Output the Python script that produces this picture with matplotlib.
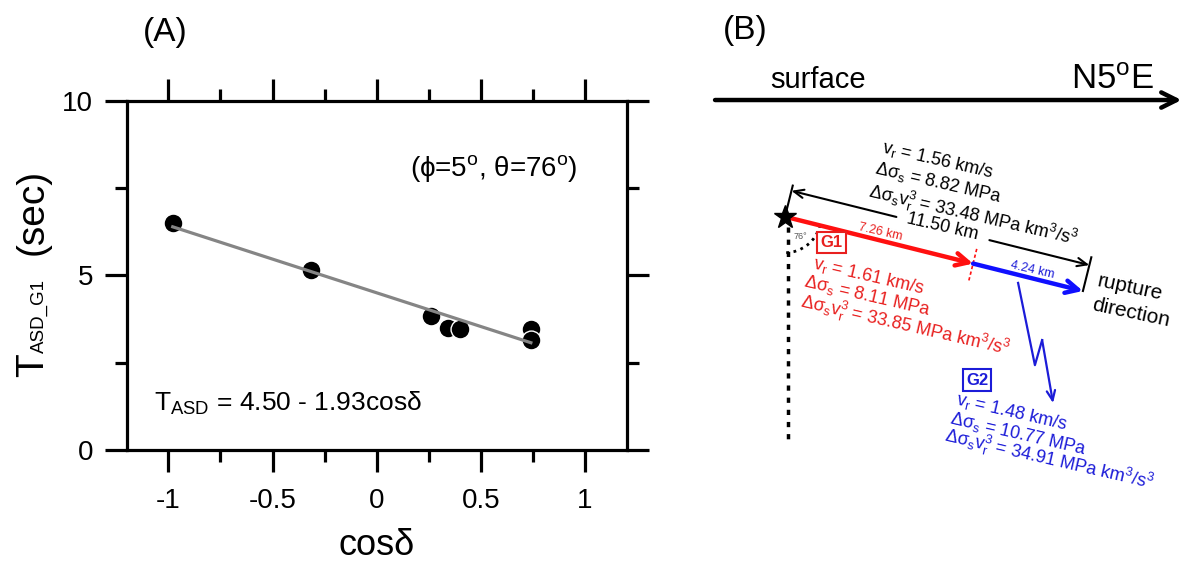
import numpy as np
import matplotlib
matplotlib.use('Agg')
import matplotlib.pyplot as plt
from matplotlib.patches import Arc

plt.rcParams['font.family'] = ['Liberation Sans', 'DejaVu Sans']
plt.rcParams['mathtext.fontset'] = 'custom'
plt.rcParams['mathtext.rm'] = 'Liberation Sans'
plt.rcParams['mathtext.it'] = 'Liberation Sans'
plt.rcParams['mathtext.bf'] = 'Liberation Sans:bold'

# (A) ASD duration vs cos(delta)
cos_delta = [-0.979, -0.314, 0.261, 0.343, 0.399, 0.740, 0.740]
t_asd = [6.51, 5.14, 3.84, 3.48, 3.45, 3.45, 3.15]
fit_a, fit_b = 4.50, -1.93
phi, theta = 5, 76
xticks = [-1, -0.5, 0, 0.5, 1]
xtick_labels = ['-1', '-0.5', '0', '0.5', '1']
yticks = [0, 5, 10]

# (B) rupture sketch
seg_len = [7.26, 4.24]
total_len = 11.50
groups = ['G1', 'G2']
vr = [1.61, 1.48]
dsig = [8.11, 10.77]
dsig_vr3 = [33.85, 34.91]
vr_all, dsig_all, dsig_vr3_all = 1.56, 8.82, 33.48
strike = 5

RED = '#e8201f'
BLUE = '#1c1cd8'

W, H = 1183, 565
fig = plt.figure(figsize=(W / 100, H / 100), dpi=100)

#%% panel A
ax = fig.add_axes([126.7 / W, 1 - 450 / H, 500 / W, 349.3 / H])
ax.scatter(cos_delta, t_asd, s=185, c='black', edgecolors='white', linewidths=1.0, zorder=3)
xf = np.array([min(cos_delta), max(cos_delta)])
ax.plot(xf, fit_a + fit_b * xf, color='#858585', lw=2.3, zorder=4)

ax.set_xlim(-1.2, 1.2)
ax.set_ylim(0, 10)
ax.set_xticks(xticks)
ax.set_xticklabels(xtick_labels)
ax.set_xticks([-0.75, -0.25, 0.25, 0.75], minor=True)
ax.set_yticks(yticks)
ax.set_yticks([2.5, 7.5], minor=True)
ax.tick_params(which='both', direction='out', top=True, right=True, width=2.3, labelsize=20)
ax.tick_params(which='major', length=16)
ax.tick_params(which='minor', length=8.6)
ax.tick_params(axis='x', pad=11)
ax.tick_params(axis='y', pad=8)
for sp in ax.spines.values():
    sp.set_linewidth(2.3)

ax.set_xlabel('cosδ', fontsize=26)
ax.xaxis.set_label_coords(0.5, -0.272)
ax.xaxis.label.set_va('center')

# y label: big T, small subscript, (sec)
fig.text(43 / W, 1 - 365 / H, 'T', fontsize=28, rotation=90, rotation_mode='anchor',
         ha='center', va='baseline')
fig.text(44 / W, 1 - 316 / H, 'ASD_G1', fontsize=13.5, rotation=90, rotation_mode='anchor',
         ha='center', va='baseline')
fig.text(43 / W, 1 - 212 / H, '(sec)', fontsize=28, rotation=90, rotation_mode='anchor',
         ha='center', va='baseline')

ax.text(0.561, 8.06, r'(ϕ=%d$^{\rm o}$, θ=%d$^{\rm o}$)' % (phi, theta), fontsize=20,
        ha='center', va='center')
ax.text(-1.07, 1.33, r'T$_{\mathregular{ASD}}$ = %.2f - %.2fcosδ' % (fit_a, -fit_b), fontsize=19,
        ha='left', va='center')

fig.text(165 / W, 1 - 32 / H, '(A)', fontsize=24, ha='center', va='center')
fig.text(745 / W, 1 - 31 / H, '(B)', fontsize=24, ha='center', va='center')

#%% panel B, axes in km with the hypocentre at the origin
scale = 26.7
ox, oy = 785, 216.7
axr = fig.add_axes([700 / W, 0, 483 / W, 1])
axr.set_xlim((700 - ox) / scale, (W - ox) / scale)
axr.set_ylim((oy - H) / scale, oy / scale)
axr.axis('off')


def arrow(p0, p1, color, lw, hl, hw):
    axr.annotate('', xy=p1, xytext=p0,
                 arrowprops=dict(arrowstyle='->,head_length=%g,head_width=%g' % (hl, hw),
                                 color=color, lw=lw, shrinkA=0, shrinkB=0))


# surface
arrow((-2.62, 4.37), (14.85, 4.37), 'black', 3.2, 1.1, 0.55)
axr.text(1.24, 5.12, 'surface', fontsize=21, ha='center', va='center')
axr.text(12.25, 5.12, r'N%d$^{\rm o}$E' % strike, fontsize=25, ha='center', va='center')

rad = np.deg2rad(theta)
d = np.array([np.sin(rad), -np.cos(rad)])
n = np.array([np.cos(rad), np.sin(rad)])
cum = np.cumsum([0] + seg_len)
p0, p1, p2 = [c * d for c in cum]

# vertical and dip angle
axr.plot([0.12, 0.12], [-0.38, -8.55], color='black', lw=2.5, ls=(0, (1.5, 2.0)),
         solid_capstyle='butt', dash_capstyle='butt')
axr.add_patch(Arc((0, 0), 2.7, 2.7, theta1=-88, theta2=-16, ls=':', lw=2, color='black'))
axr.text(0.59, -0.75, '%d°' % theta, fontsize=6.5, color='#555555', ha='center', va='center')

# rupture segments
arrow(p0, p1, '#ff1010', 3.2, 0.9, 0.45)
arrow(p1, p2, '#1010ff', 3.2, 0.9, 0.45)
sep = np.array([p1 - 0.65 * n, p1 + 0.65 * n])
axr.plot(sep[:, 0], sep[:, 1], color='#ff1010', lw=1.2, ls=(0, (2, 1.5)))
axr.plot(0, 0, marker='*', ms=17, color='black', zorder=6)

rot = -13
axr.text(3.56, -0.57, '%.2f km' % seg_len[0], fontsize=9, color=RED, rotation=rot,
         rotation_mode='anchor', ha='center', va='center')
axr.text(9.25, -2.0, '%.2f km' % seg_len[1], fontsize=9, color=BLUE, rotation=rot,
         rotation_mode='anchor', ha='center', va='center')

# total length dimension
off = 1.0
a_pt = off * n
b_pt = total_len * d + off * n
arrow(a_pt + 4.05 * d, a_pt, 'black', 1.5, 0.7, 0.3)
arrow(a_pt + 7.64 * d, b_pt, 'black', 1.5, 0.7, 0.3)
for base, ln in [(p0, 1.2), (p2, 1.3)]:
    e = np.array([base, base + ln * n])
    axr.plot(e[:, 0], e[:, 1], color='black', lw=1.5)

txt = dict(fontsize=13, rotation=rot, rotation_mode='anchor', ha='center', va='center')
axr.text(5.73, 2.12, r'$\mathregular{v_r}$ = %.2f km/s' % vr_all, **txt)
axr.text(5.73, 1.26, r'$\mathregular{Δσ_s}$ = %.2f MPa' % dsig_all, **txt)
axr.text(7.04, 0.03, r'$\mathregular{Δσ_s v_r^3}$ = %.2f MPa km$^3$/s$^3$' % dsig_vr3_all, **txt)
axr.text(5.88, -0.39, '%.2f km' % total_len, **txt)

# G1 block
axr.text(1.75, -0.97, groups[0], fontsize=12, fontweight='bold', color=RED, ha='center', va='center',
         bbox=dict(boxstyle='square,pad=0.2', fc='white', ec=RED, lw=1.5))
axr.text(3.15, -2.22, r'$\mathregular{v_r}$ = %.2f km/s' % vr[0], color=RED, **txt)
axr.text(3.07, -2.97, r'$\mathregular{Δσ_s}$ = %.2f MPa' % dsig[0], color=RED, **txt)
axr.text(4.49, -4.09, r'$\mathregular{Δσ_s v_r^3}$ = %.2f MPa km$^3$/s$^3$' % dsig_vr3[0], color=RED, **txt)

# G2 block with lightning arrow
axr.plot([8.73, 9.36, 9.63], [-2.48, -5.56, -4.62], color=BLUE, lw=1.6)
arrow((9.63, -4.62), (10.04, -6.98), BLUE, 1.6, 0.7, 0.3)
axr.text(7.19, -6.12, groups[1], fontsize=12, fontweight='bold', color=BLUE, ha='center', va='center',
         bbox=dict(boxstyle='square,pad=0.2', fc='white', ec=BLUE, lw=1.5))
axr.text(8.50, -7.31, r'$\mathregular{v_r}$ = %.2f km/s' % vr[1], color=BLUE, **txt)
axr.text(8.73, -8.14, r'$\mathregular{Δσ_s}$ = %.2f MPa' % dsig[1], color=BLUE, **txt)
axr.text(9.89, -9.11, r'$\mathregular{Δσ_s v_r^3}$ = %.2f MPa km$^3$/s$^3$' % dsig_vr3[1], color=BLUE, **txt)

axr.text(12.92, -2.67, 'rupture', fontsize=15, rotation=-12, rotation_mode='anchor',
         ha='center', va='center')
axr.text(12.96, -3.61, 'direction', fontsize=15, rotation=-12, rotation_mode='anchor',
         ha='center', va='center')

fig.savefig('out.png', dpi=100)
